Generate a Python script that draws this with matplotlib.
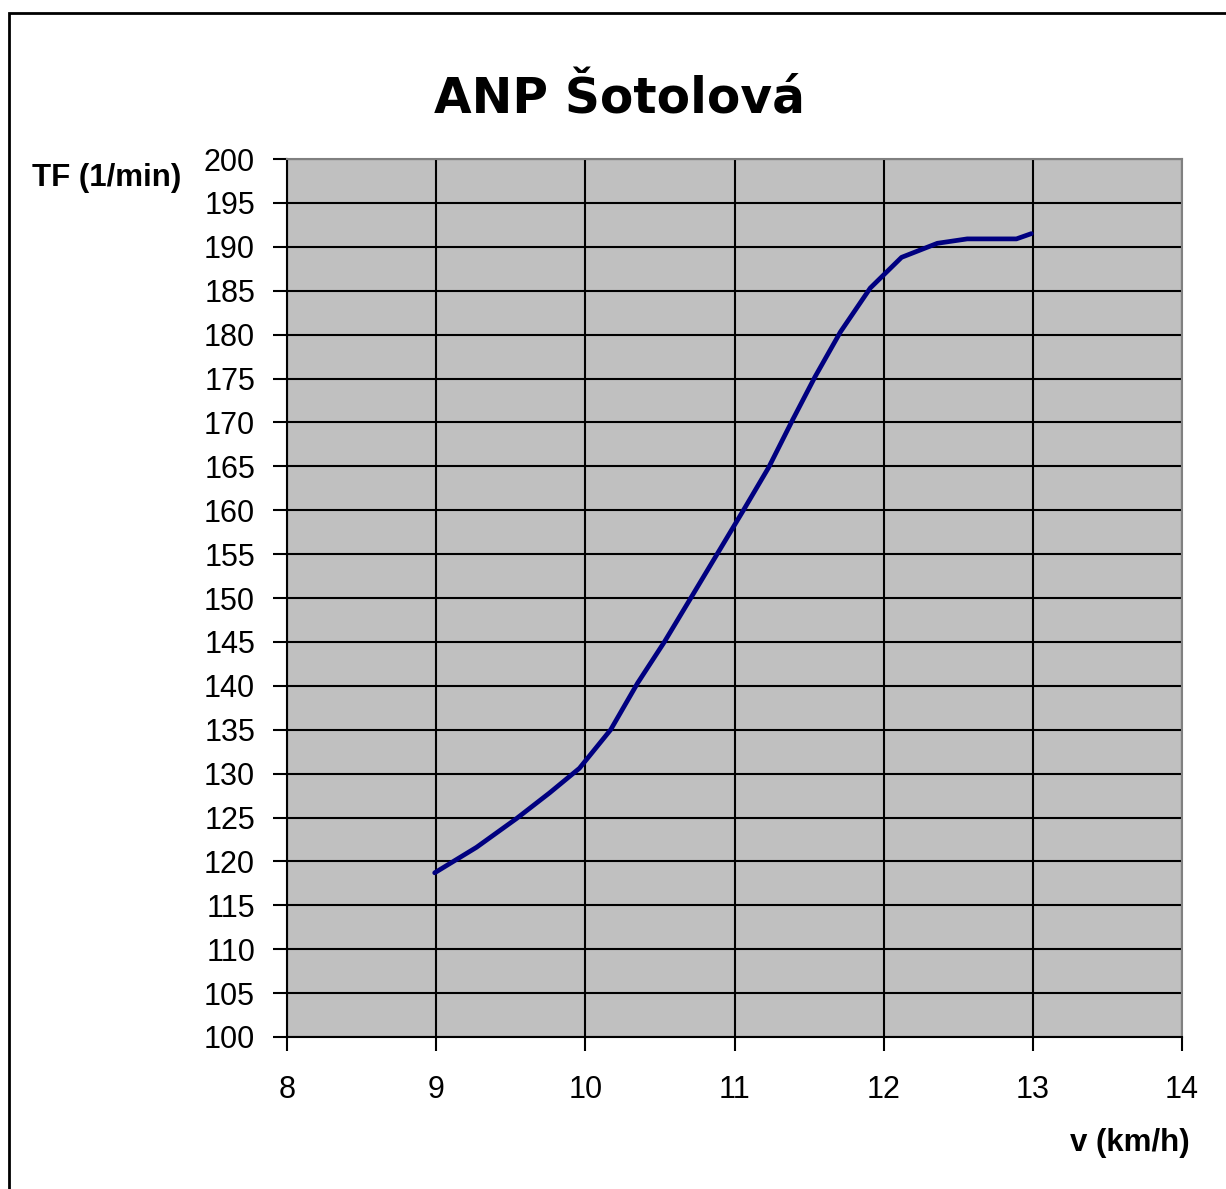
import matplotlib
matplotlib.use('Agg')
import matplotlib.pyplot as plt
from matplotlib.patches import Rectangle

# rychlost (km/h) a tepova frekvence (1/min)
rychlost = [8.99, 9.27, 9.54, 9.76, 9.96, 10.17, 10.35, 10.53, 10.70, 10.88,
            11.06, 11.23, 11.39, 11.54, 11.71, 11.91, 12.12, 12.36, 12.56,
            12.89, 12.99]
tf = [118.7, 121.6, 124.9, 127.8, 130.6, 135.0, 140.3, 145.0, 149.8, 154.9,
      160.0, 164.9, 170.3, 175.2, 180.3, 185.3, 188.8, 190.4, 190.9,
      190.9, 191.5]

x_ticks = list(range(8, 15))
y_ticks = list(range(100, 201, 5))

W, H = 1226, 1189
fig = plt.figure(figsize=(W / 100, H / 100), dpi=100)
fig.patch.set_facecolor('white')

# ramecek grafu (pravy a spodni okraj je oriznuty)
fig.patches.append(Rectangle((9 / W, -0.2), 1.2, 1.2 - 13 / H, transform=fig.transFigure,
                             fill=False, edgecolor='black', linewidth=2))

ax = fig.add_axes([287 / W, 1 - 1037 / H, (1182 - 287) / W, (1037 - 159) / H])
ax.set_facecolor('#C0C0C0')

ax.plot(rychlost, tf, color='#000080', linewidth=3.4, solid_capstyle='round')

ax.set_xlim(8, 14)
ax.set_ylim(100, 200)
ax.set_xticks(x_ticks)
ax.set_yticks(y_ticks)
ax.grid(True, color='black', linewidth=1.5)
ax.set_axisbelow(True)
for s in ax.spines.values():
    s.set_color('black')
    s.set_linewidth(1.5)
ax.spines['top'].set_color('#808080')
ax.spines['right'].set_color('#808080')

ax.tick_params(axis='both', direction='out', length=10, width=1.5, colors='black',
               labelsize=22, pad=13)
ax.tick_params(axis='x', pad=17)
for lab in ax.get_xticklabels() + ax.get_yticklabels():
    lab.set_family('Liberation Sans')

fig.text(620 / W, 1 - 99 / H, 'ANP Šotolová', ha='center', va='center',
         fontsize=35, fontweight='heavy', family='DejaVu Sans')
fig.text(32 / W, 1 - 178 / H, 'TF (1/min)', ha='left', va='center',
         fontsize=22.5, fontweight='bold', family='Liberation Sans')
fig.text(1190 / W, 1 - 1143 / H, 'v (km/h)', ha='right', va='center',
         fontsize=22.5, fontweight='bold', family='Liberation Sans')

fig.savefig('out.png', dpi=100)
